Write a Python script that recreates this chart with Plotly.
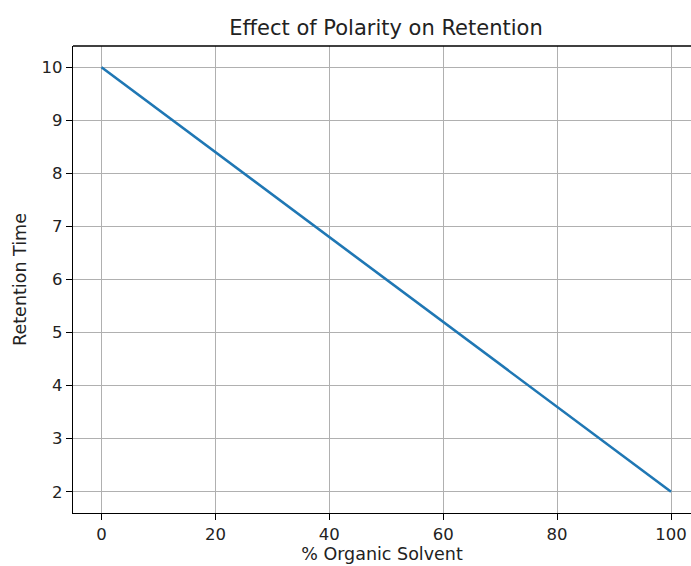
import plotly.graph_objects as go

organic_pct = [0, 10, 20, 30, 40, 50, 60, 70, 80, 90, 100]
retention_time = [10.0, 9.2, 8.4, 7.6, 6.8, 6.0, 5.2, 4.4, 3.6, 2.8, 2.0]
x_ticks = [0, 20, 40, 60, 80, 100]
y_ticks = [2, 3, 4, 5, 6, 7, 8, 9, 10]

W, H = 691, 566
L, R, T, B = 73, 0, 46, 53
font = dict(family="DejaVu Sans, sans-serif", size=16.5, color="#222222")
label_font = dict(family="DejaVu Sans, sans-serif", size=17.5, color="#222222")

fig = go.Figure(go.Scatter(x=organic_pct, y=retention_time, mode="lines",
                           line=dict(color="#1f77b4", width=2.6), showlegend=False))

axis_common = dict(showgrid=True, gridcolor="#b0b0b0", gridwidth=1.3,
                   showline=True, linecolor="black", linewidth=1.3,
                   ticks="outside", ticklen=6, tickwidth=1.3, tickcolor="black",
                   zeroline=False, tickfont=font, automargin=False, mirror=False)

fig.update_xaxes(range=[-5, (W - R - 101.5) / 5.698 + 0.05], tickvals=x_ticks,
                 title=dict(text="% Organic Solvent", font=label_font, standoff=2),
                 **axis_common)
fig.update_yaxes(range=[1.6, 10.4], tickvals=y_ticks,
                 title=dict(text="Retention Time", font=label_font, standoff=10),
                 **axis_common)

# top spine
fig.add_shape(type="line", xref="paper", yref="paper", x0=0, x1=1, y0=1, y1=1,
              line=dict(color="black", width=1.3), layer="above")

plot_w = W - L - R
title_x = (386 - L) / plot_w
fig.update_layout(
    width=W, height=H,
    margin=dict(l=L, r=R, t=T, b=B, pad=0, autoexpand=False),
    plot_bgcolor="white", paper_bgcolor="white",
    font=font,
    title=dict(text="Effect of Polarity on Retention", x=title_x, xref="paper",
               xanchor="center", y=1 - 28 / H, yanchor="middle", automargin=False,
               font=dict(family="DejaVu Sans, sans-serif", size=21, color="#222222")),
)
fig.write_html("out.html", config={"displayModeBar": False},
               post_script="document.body.style.margin='0';document.body.style.overflow='hidden';")
